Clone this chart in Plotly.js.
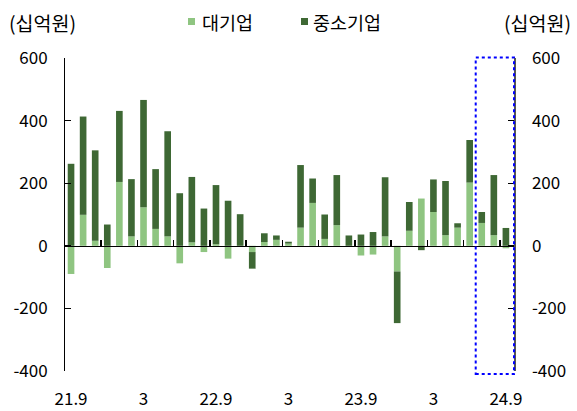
<!DOCTYPE html>
<html>
<head>
<meta charset="utf-8">
<script src="https://cdn.plot.ly/plotly-3.0.1.min.js"></script>
<style>html,body{margin:0;padding:0;background:#fff;}#chart{width:577px;height:411px;}</style>
</head>
<body>
<div id="chart"></div>
<script>
const categories = ['21.9','21.10','21.11','21.12','22.1','22.2','22.3','22.4','22.5','22.6','22.7','22.8','22.9','22.10','22.11','22.12','23.1','23.2','23.3','23.4','23.5','23.6','23.7','23.8','23.9','23.10','23.11','23.12','24.1','24.2','24.3','24.4','24.5','24.6','24.7','24.8','24.9'];
const largeFirms = [-90, 99, 16, -71, 204, 30, 123, 54, 30, -56, 11, -20, 5, -41, 0, -20, 12, 19, 7, 58, 137, 22, 66, 0, -31, -28, 30, -82, 48, 151, 108, 34, 58, 202, 73, 34, -8];
const smeFirms = [262, 314, 289, 68, 227, 183, 343, 191, 336, 168, 209, 119, 189, 144, 101, -53, 28, 14, 6, 200, 78, 78, 160, 33, 36, 44, 189, -165, 92, -14, 104, 173, 14, 136, 35, 192, 57];
const tickPositions = [0, 6, 12, 18, 24, 30, 36];
const tickLabels = ['21.9', '3', '22.9', '3', '23.9', '3', '24.9'];
const yTicks = [-400, -200, 0, 200, 400, 600];
const yTickLabels = ['-400', '-200', '0', '200', '400', '600'];
const seriesNames = ['대기업', '중소기업'];
const unitLabel = '(십억원)';

const colors = {large: '#8fc581', sme: '#3e6834'};
const FONT = '"Noto Sans CJK KR", "Noto Sans", sans-serif';
const W = 577, H = 411;
const M = {l: 65, r: 63, t: 58, b: 40};
const PW = W - M.l - M.r, PH = H - M.t - M.b;
const px = v => (v - M.l) / PW;
const py = v => (H - M.b - v) / PH;

const xIdx = categories.map((c, i) => i);
const xRange = [-0.5, 36.67];
const yRange = [-400, 600];
const xFrac = v => (v - xRange[0]) / (xRange[1] - xRange[0]);
const minorTicks = categories.map((c, i) => i + 0.5).filter(v => (v + 0.5) % 3 === 0 && v < categories.length - 1);

const traces = [
  {type: 'bar', x: xIdx, y: largeFirms, name: seriesNames[0], marker: {color: colors.large, line: {width: 0}}, hoverinfo: 'y'},
  {type: 'bar', x: xIdx, y: smeFirms, name: seriesNames[1], marker: {color: colors.sme, line: {width: 0}}, hoverinfo: 'y'},
  {type: 'scatter', x: [], y: [], xaxis: 'x2', yaxis: 'y', showlegend: false, hoverinfo: 'skip'},
  {type: 'scatter', x: [], y: [], xaxis: 'x', yaxis: 'y2', showlegend: false, hoverinfo: 'skip'}
];

const tickFont = {family: FONT, size: 17, color: '#000'};
const textFont = {family: FONT, size: 18.5, color: '#000'};

const layout = {
  width: W, height: H,
  margin: M,
  paper_bgcolor: '#fff', plot_bgcolor: '#fff',
  barmode: 'relative',
  bargap: 0.45,
  showlegend: false,
  font: {family: FONT, size: 17, color: '#000'},
  xaxis: {
    range: xRange, tickvals: tickPositions, ticktext: tickLabels,
    showgrid: false, zeroline: false, showline: false, ticks: '',
    tickfont: tickFont, ticklabelstandoff: 16, fixedrange: true
  },
  xaxis2: {
    overlaying: 'x', anchor: 'free', position: (0 - yRange[0]) / (yRange[1] - yRange[0]),
    range: xRange, tickvals: minorTicks, showticklabels: false,
    ticks: 'inside', ticklen: 6, tickwidth: 1.5, tickcolor: '#000',
    showline: true, linecolor: '#000', linewidth: 1.5, showgrid: false, zeroline: false
  },
  yaxis: {
    range: yRange, tickvals: yTicks, ticktext: yTickLabels, showgrid: false, zeroline: false,
    showline: true, linecolor: '#000', linewidth: 1,
    ticks: 'inside', ticklen: 6, tickcolor: '#000', tickwidth: 1,
    tickfont: tickFont, ticklabelstandoff: 13
  },
  yaxis2: {
    overlaying: 'y', side: 'right', range: yRange, tickvals: yTicks, ticktext: yTickLabels,
    showgrid: false, zeroline: false,
    showline: true, linecolor: '#555', linewidth: 1.5,
    ticks: 'inside', ticklen: 6, tickcolor: '#000', tickwidth: 1,
    tickfont: tickFont, ticklabelstandoff: 13
  },
  shapes: [
    {type: 'rect', xref: 'paper', yref: 'paper', x0: xFrac(33.5), x1: 1.0, y0: py(374), y1: py(57.5),
     line: {color: '#0000ff', width: 2, dash: 'dot'}, fillcolor: 'rgba(0,0,0,0)', layer: 'above'},
    {type: 'rect', xref: 'paper', yref: 'paper', x0: px(188), x1: px(195), y0: py(25), y1: py(18),
     fillcolor: colors.large, line: {width: 0}},
    {type: 'rect', xref: 'paper', yref: 'paper', x0: px(301), x1: px(308), y0: py(25), y1: py(18),
     fillcolor: colors.sme, line: {width: 0}}
  ],
  annotations: [
    {xref: 'paper', yref: 'paper', x: px(7), y: py(22), xanchor: 'left', yanchor: 'middle', showarrow: false, text: unitLabel, font: {family: FONT, size: 19.5, color: '#000'}},
    {xref: 'paper', yref: 'paper', x: px(573), y: py(22), xanchor: 'right', yanchor: 'middle', showarrow: false, text: unitLabel, font: {family: FONT, size: 19.5, color: '#000'}},
    {xref: 'paper', yref: 'paper', x: px(200), y: py(22), xanchor: 'left', yanchor: 'middle', showarrow: false, text: seriesNames[0], font: textFont},
    {xref: 'paper', yref: 'paper', x: px(311), y: py(22), xanchor: 'left', yanchor: 'middle', showarrow: false, text: seriesNames[1], font: textFont}
  ]
};

Plotly.newPlot('chart', traces, layout, {staticPlot: true, displayModeBar: false});
</script>
</body>
</html>
